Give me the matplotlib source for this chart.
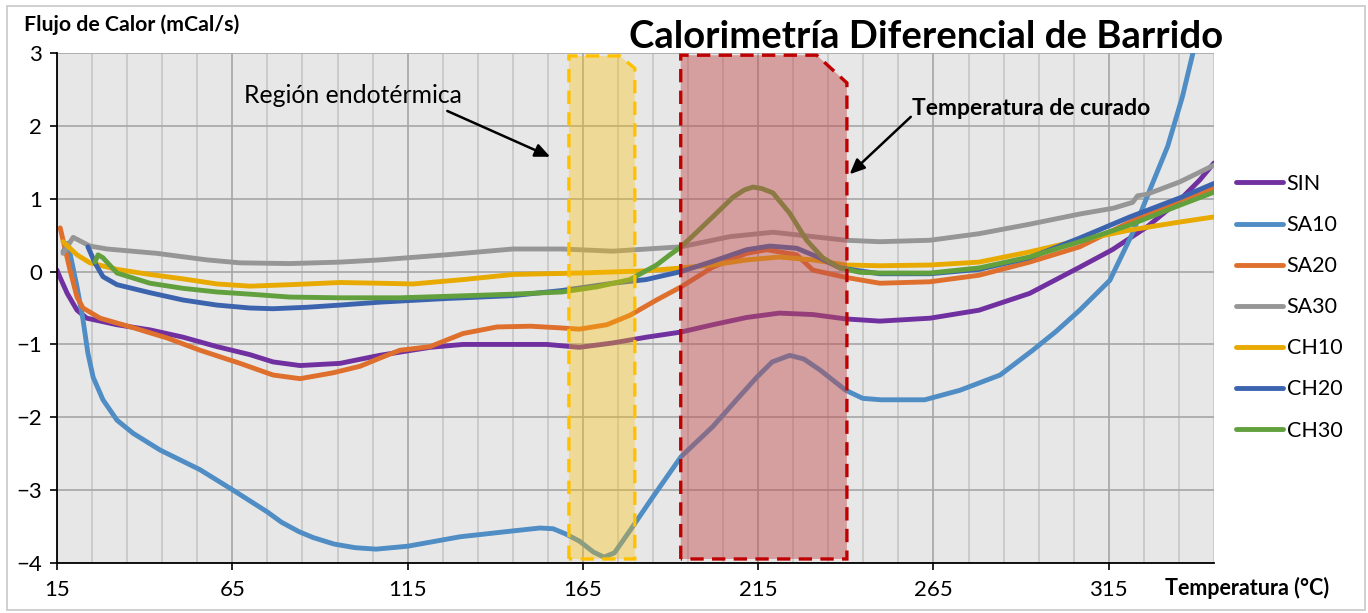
import matplotlib.pyplot as plt
from matplotlib.patches import Polygon, Rectangle
from matplotlib.ticker import MultipleLocator

plt.rcParams['font.family'] = ['Lato', 'DejaVu Sans']

# curvas (temperatura en C, flujo en mCal/s)
sin_x = [15, 15.3, 17.9, 20.7, 23.5, 32.1, 41.5, 50.9, 60.6, 70, 76.6, 84.3, 95.7, 107, 121.4, 130.8, 145,
         154.7, 164, 173.5, 183.2, 193, 202, 211.7, 221, 230.6, 240, 249.7, 264, 278, 292.4, 306.7, 316,
         325.8, 335.2, 341, 345]
sin_y = [0.02, -0.02, -0.3, -0.53, -0.64, -0.73, -0.8, -0.9, -1.03, -1.14, -1.24, -1.29, -1.26, -1.15, -1.04,
         -1.0, -1.0, -1.0, -1.04, -0.98, -0.9, -0.83, -0.73, -0.63, -0.57, -0.59, -0.65, -0.68, -0.64, -0.53,
         -0.3, 0.06, 0.3, 0.61, 0.98, 1.26, 1.49]

sa10_x = [16.7, 18.1, 20.7, 22.4, 23.8, 25.3, 28.1, 32.1, 36.7, 44.4, 55.8, 65.2, 75, 79, 84, 88, 94, 100,
          106, 115, 130, 145, 152.7, 156.5, 160, 164, 168, 171, 174, 178.5, 185, 193, 202, 209, 214.6, 219,
          224, 228, 232.6, 240, 244.8, 250, 262.5, 272.5, 284, 293.3, 300, 306.7, 315.3, 321.8, 326.7, 331.8,
          336, 339]
sa10_y = [0.27, 0.39, -0.21, -0.66, -1.12, -1.45, -1.76, -2.04, -2.22, -2.45, -2.72, -3.0, -3.3, -3.44,
          -3.57, -3.65, -3.74, -3.79, -3.81, -3.77, -3.64, -3.56, -3.52, -3.53, -3.6, -3.7, -3.85, -3.92,
          -3.86, -3.55, -3.09, -2.54, -2.13, -1.75, -1.45, -1.24, -1.15, -1.2, -1.35, -1.63, -1.74, -1.76,
          -1.76, -1.63, -1.42, -1.08, -0.82, -0.53, -0.12, 0.53, 1.12, 1.72, 2.4, 3.0]

sa20_x = [15.9, 18.7, 20.7, 22.4, 27.3, 36.7, 46.3, 55.8, 67.2, 76.6, 84.3, 93.7, 101.4, 108, 112.8, 121.4,
          130.8, 140.5, 150, 157.6, 164, 171.8, 178.4, 186, 193, 202, 211.7, 217.4, 226, 230.6, 240, 249.7,
          264, 278, 292.4, 306.7, 321, 335.2, 345]
sa20_y = [0.6, 0.02, -0.35, -0.5, -0.64, -0.77, -0.91, -1.08, -1.26, -1.42, -1.47, -1.39, -1.3, -1.17, -1.08,
          -1.03, -0.85, -0.76, -0.75, -0.77, -0.79, -0.73, -0.6, -0.39, -0.21, 0.06, 0.25, 0.3, 0.23, 0.02,
          -0.08, -0.16, -0.14, -0.05, 0.13, 0.34, 0.68, 0.98, 1.15]

sa30_x = [16.7, 19.6, 24.4, 29.3, 43.5, 57.8, 67.2, 81.4, 95.7, 107, 126, 145, 159, 173.5, 193, 207, 219.2,
          230.6, 240, 249.7, 264, 278, 292.4, 306.7, 316.3, 321.8, 323.2, 325.8, 335.2, 345]
sa30_y = [0.25, 0.47, 0.35, 0.31, 0.25, 0.16, 0.12, 0.11, 0.13, 0.16, 0.23, 0.31, 0.31, 0.28, 0.34, 0.48,
          0.54, 0.48, 0.43, 0.41, 0.43, 0.52, 0.65, 0.79, 0.87, 0.95, 1.04, 1.06, 1.23, 1.46]

ch10_x = [16.7, 20.7, 24.4, 32.1, 41.5, 50.9, 60.6, 70, 81.4, 95.7, 107, 116.5, 130.8, 145, 164, 183, 193,
          202, 211.7, 221, 230.6, 240, 249.7, 264, 278, 292.4, 306.7, 321, 335.2, 345]
ch10_y = [0.41, 0.23, 0.12, 0.03, -0.04, -0.1, -0.17, -0.2, -0.18, -0.15, -0.16, -0.17, -0.11, -0.04, -0.02,
          0.01, 0.05, 0.09, 0.16, 0.2, 0.16, 0.09, 0.08, 0.09, 0.13, 0.27, 0.43, 0.57, 0.68, 0.75]

ch20_x = [23.8, 25.8, 28.1, 32.1, 41.5, 50.9, 60.6, 70, 76.6, 86.3, 95.7, 107, 126, 145, 159, 173.5, 183,
          193, 202, 211.7, 218.3, 226, 232, 238.3, 249.7, 264, 278, 292.4, 306.7, 321, 335.2, 345]
ch20_y = [0.34, 0.12, -0.07, -0.18, -0.29, -0.39, -0.46, -0.5, -0.51, -0.49, -0.46, -0.42, -0.37, -0.33,
          -0.26, -0.16, -0.11, 0.0, 0.14, 0.3, 0.35, 0.32, 0.2, 0.05, -0.03, -0.03, 0.03, 0.19, 0.46, 0.75,
          1.01, 1.21]

ch30_x = [25.8, 26.7, 28.1, 32.1, 41.5, 50.9, 60.6, 70, 81.4, 95.7, 112.8, 126, 145, 159, 169, 178.4, 186,
          189.8, 193, 197, 202, 207.8, 211, 213.5, 216, 219.2, 224, 228.8, 233.4, 238.3, 244, 249.7, 264, 278,
          292.4, 306.7, 321, 335.2, 345]
ch30_y = [0.13, 0.23, 0.19, -0.02, -0.16, -0.23, -0.28, -0.31, -0.35, -0.36, -0.36, -0.34, -0.31, -0.28,
          -0.21, -0.11, 0.09, 0.23, 0.34, 0.52, 0.75, 1.02, 1.12, 1.16, 1.14, 1.08, 0.8, 0.43, 0.19, 0.05,
          -0.01, -0.02, -0.02, 0.05, 0.2, 0.41, 0.64, 0.91, 1.09]

series = [('SIN', sin_x, sin_y, '#7030A0'),
          ('SA10', sa10_x, sa10_y, '#4F8DC4'),
          ('SA20', sa20_x, sa20_y, '#DE6F2C'),
          ('SA30', sa30_x, sa30_y, '#969696'),
          ('CH10', ch10_x, ch10_y, '#E8AA00'),
          ('CH20', ch20_x, ch20_y, '#3C64AE'),
          ('CH30', ch30_x, ch30_y, '#62A03D')]

fig = plt.figure(figsize=(13.68, 6.13), dpi=100)
fig.patches.append(Rectangle((0.005, 0.005), 0.993, 0.985, transform=fig.transFigure,
                             fill=False, edgecolor='#C8C8C8', lw=1.2))
ax = fig.add_axes([0.0417, 0.0816, 0.8457, 0.8319])
ax.set_facecolor('#E7E7E7')

for name, xs, ys, col in series:
    ax.plot(xs, ys, color=col, lw=3.5, label=name, solid_joinstyle='round', solid_capstyle='round', zorder=3)

# regiones marcadas
yel = Polygon([(161.0, -3.945), (161.0, 2.96), (175.5, 2.96), (179.8, 2.79), (179.8, -3.945)],
              closed=True, facecolor=(1.0, 0.753, 0.0, 0.35), edgecolor='#FFC000', lw=2.4,
              linestyle=(0, (4, 2.5)), zorder=4)
red = Polygon([(192.9, -3.945), (192.9, 2.97), (231.7, 2.97), (240.3, 2.59), (240.3, -3.945)],
              closed=True, facecolor=(0.75, 0.31, 0.30, 0.47), edgecolor='#C00000', lw=2.4,
              linestyle=(0, (4, 2.5)), zorder=4)
ax.add_patch(yel)
ax.add_patch(red)

ax.set_xlim(15, 345)
ax.set_ylim(-4, 3)
ax.xaxis.set_major_locator(MultipleLocator(50, offset=15))
ax.xaxis.set_minor_locator(MultipleLocator(10, offset=5))
ax.yaxis.set_major_locator(MultipleLocator(1))
ax.grid(which='major', axis='both', color='#A6A6A6', lw=1.2, zorder=1)
ax.grid(which='minor', axis='x', color='#C6C6C6', lw=1.2, zorder=1)
ax.set_axisbelow(True)
ax.tick_params(which='major', direction='out', length=5, width=1.2, color='black',
               labelsize=16, pad=7)
ax.tick_params(axis='y', pad=6)
ax.tick_params(which='minor', length=0)
for s in ['top', 'right']:
    ax.spines[s].set_visible(False)
for s in ['left', 'bottom']:
    ax.spines[s].set_color('black')
    ax.spines[s].set_linewidth(1.3)
    ax.spines[s].set_zorder(5)

ax.text(99.4, 2.42, 'Región endotérmica', fontsize=17.8, ha='center', va='center', zorder=6)
ax.annotate('', xy=(156.4, 1.56), xytext=(125.6, 2.22),
            arrowprops=dict(arrowstyle='-|>,head_length=0.9,head_width=0.4', color='black', lw=1.8),
            zorder=6)
ax.text(258.8, 2.245, 'Temperatura de curado', fontsize=16.5, fontweight='bold', ha='left', va='center',
        zorder=6)
ax.annotate('', xy=(240.5, 1.31), xytext=(259.1, 2.15),
            arrowprops=dict(arrowstyle='-|>,head_length=0.9,head_width=0.4', color='black', lw=1.8),
            zorder=6)

fig.text(926 / 1368, 1 - 37 / 613, 'Calorimetría Diferencial de Barrido', fontsize=27.5, fontweight='bold',
         ha='center', va='center')
fig.text(24 / 1368, 1 - 25 / 613, 'Flujo de Calor (mCal/s)', fontsize=15.3, fontweight='bold',
         ha='left', va='center')
fig.text(1247 / 1368, 1 - 588 / 613, 'Temperatura (°C)', fontsize=15.5, fontweight='bold',
         ha='center', va='center')

fig.legend(loc='upper left', bbox_to_anchor=(1236 / 1368, 1 - 174 / 613), frameon=False, fontsize=15.5,
           handlelength=2.2, handletextpad=0.15, labelspacing=0.98, borderpad=0, borderaxespad=0)

fig.savefig('out.png', dpi=100)
